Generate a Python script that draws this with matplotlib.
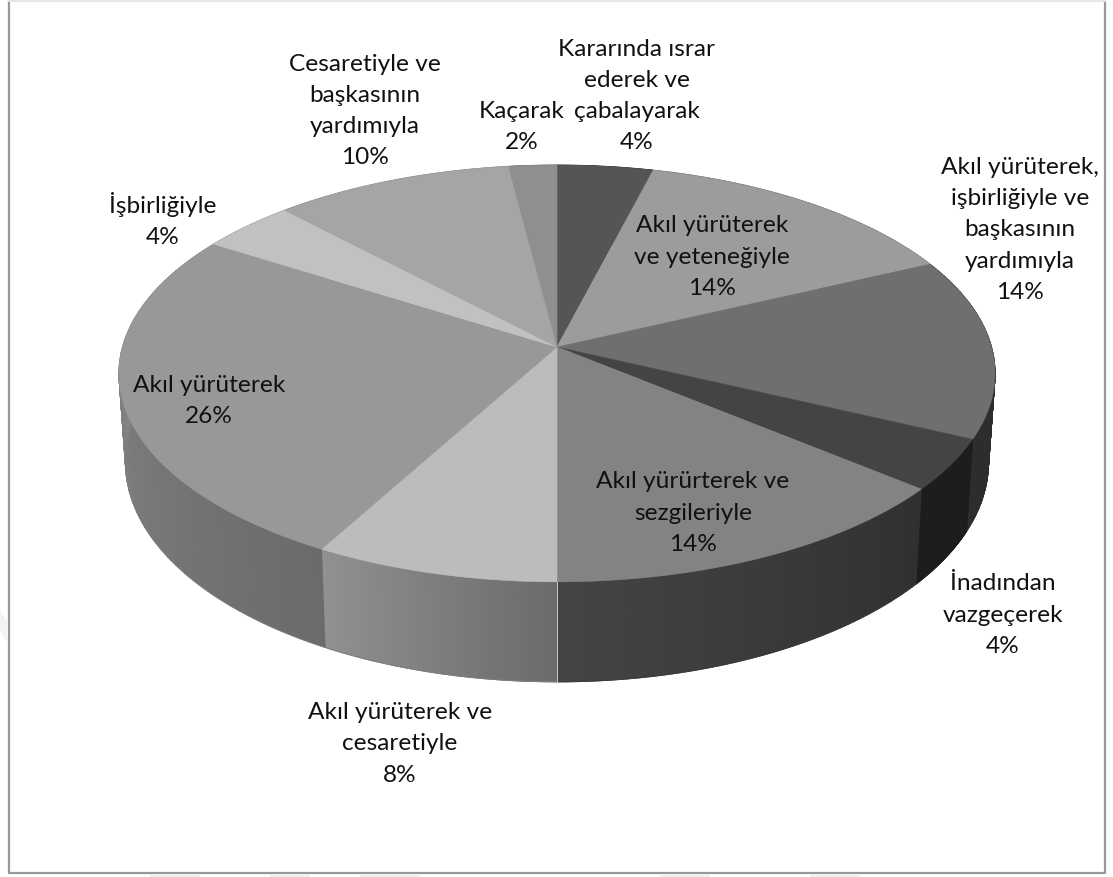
import numpy as np
import matplotlib
matplotlib.use("Agg")
import matplotlib.pyplot as plt

labels = [
    "Kararında ısrar\nederek ve\nçabalayarak\n4%",
    "Akıl yürüterek\nve yeteneğiyle\n14%",
    "Akıl yürüterek,\nişbirliğiyle ve\nbaşkasının\nyardımıyla\n14%",
    "İnadından\nvazgeçerek\n4%",
    "Akıl yürürterek ve\nsezgileriyle\n14%",
    "Akıl yürüterek ve\ncesaretiyle\n8%",
    "Akıl yürüterek\n26%",
    "İşbirliğiyle\n4%",
    "Cesaretiyle ve\nbaşkasının\nyardımıyla\n10%",
    "Kaçarak\n2%",
]
values = [4, 14, 14, 4, 14, 8, 26, 4, 10, 2]
top_colors = ["#555555", "#9c9c9c", "#6f6f6f", "#444444", "#838383",
              "#bcbcbc", "#989898", "#c1c1c1", "#a5a5a5", "#8f8f8f"]
# grey of the side wall at the start and end of each slice (clockwise)
wall_start = [0.20, 0.35, 0.17, 0.115, 0.19, 0.42, 0.42, 0.60, 0.50, 0.45]
wall_end = [0.20, 0.35, 0.18, 0.115, 0.27, 0.57, 0.56, 0.60, 0.50, 0.45]
label_x = [637, 712, 1020, 1003, 693, 400, 209, 163, 365, 522]
label_y = [96, 257, 230, 615, 513, 744, 401, 220, 111, 127]

# perspective of the disc, in pixels of the picture
CX, CY = 557, 347
RX, RY = 434.5, 205
PERSP = 0.127
DEPTH = 87.3
BOTTOM_SHRINK = 0.985


def project(theta):
    x = np.sin(theta)
    y = np.cos(theta)
    den = 1 + PERSP * y
    return CX + RX * x / den, CY - RY * y / den, DEPTH / den


fig = plt.figure(figsize=(11.13, 8.77), dpi=100)
ax = fig.add_axes([0, 0, 1, 1])
ax.set_xlim(0, 1113)
ax.set_ylim(877, 0)
ax.axis("off")

# faint watermark bits around the frame
ax.fill([0, 7, 7, 0], [610, 622, 643, 630], color="#f3f3f3", lw=0, zorder=0)
for x0, x1 in [(150, 200), (270, 310), (360, 420), (660, 710), (810, 860)]:
    ax.fill([x0, x1, x1, x0], [875, 875, 877, 877], color="#f0f0f0", lw=0, zorder=0)

# frame
ax.plot([8.5, 8.5, 1104.5, 1104.5], [0, 873, 873, 0], color="#999999", lw=1.6, zorder=1)
ax.plot([8.5, 1104.5], [0.5, 0.5], color="#e6e6e6", lw=1.5, zorder=1)

fractions = np.cumsum([0] + values) / sum(values)
angles = 2 * np.pi * fractions

for i in range(len(values)):
    t = np.linspace(angles[i], angles[i + 1], 120)
    xt, yt, h = project(t)
    xb = CX + BOTTOM_SHRINK * (xt - CX)
    yb = yt + h
    shade = np.linspace(wall_start[i], wall_end[i], len(t))
    ax.pcolormesh(np.array([xt, xb]), np.array([yt, yb]), np.array([shade, shade]),
                  shading="gouraud", cmap="gray", vmin=0, vmax=1, zorder=2)
    mid = str((wall_start[i] + wall_end[i]) / 2)
    ax.plot(xb, yb, color=mid, lw=0.7, zorder=2)

# light seam at the front of the wall
xs, ys, hs = project(np.array([np.pi]))
ax.plot([xs[0], xs[0]], [ys[0], ys[0] + hs[0]], color="#c8c8c8", lw=0.7, zorder=3)

for i in range(len(values)):
    t = np.linspace(angles[i], angles[i + 1], 120)
    xt, yt, h = project(t)
    ax.fill(np.r_[CX, xt], np.r_[CY, yt], facecolor=top_colors[i],
            edgecolor=top_colors[i], lw=0.4, zorder=4)

for lab, x, y in zip(labels, label_x, label_y):
    ax.text(x, y, lab, ha="center", va="center", family="Lato", fontsize=17.6,
            linespacing=1.6, color="#111111", zorder=5)

fig.savefig("out.png", dpi=100)
